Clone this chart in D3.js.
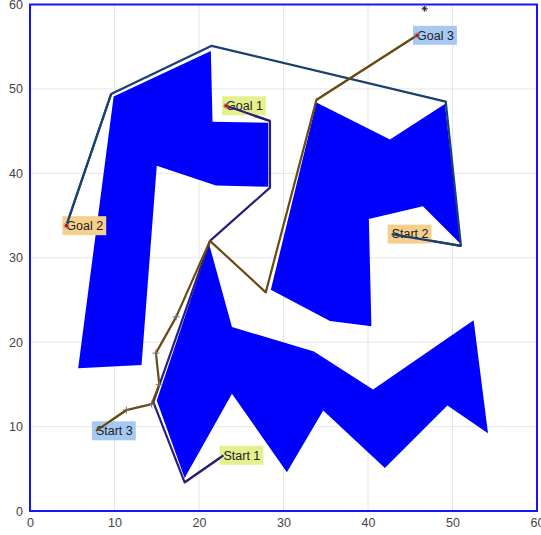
<!DOCTYPE html>
<html>
<head>
<meta charset="utf-8">
<script src="https://cdn.jsdelivr.net/npm/d3@7"></script>
<style>
  html, body { margin: 0; padding: 0; background: #fff; }
  svg { display: block; font-family: "Liberation Sans", Arial, sans-serif; }
</style>
</head>
<body>
<svg id="chart" width="541" height="535"></svg>
<script>
// Obstacles (workspace units)
const obstacleA = [[9.9,49.1],[21.4,54.5],[21.6,46.1],[28.2,46.0],[28.2,38.4],[22.0,38.55],[15.0,40.9],[13.2,17.3],[5.7,16.9]];
const obstacleB = [[33.9,48.4],[42.6,44.0],[49.1,48.2],[51.0,31.6],[46.5,36.1],[40.1,34.6],[40.4,21.9],[35.5,22.5],[28.5,26.2]];
const obstacleC = [[21.2,31.6],[23.9,21.8],[33.6,18.9],[40.6,14.4],[52.5,22.6],[54.2,9.2],[49.4,12.5],[42.0,5.1],[34.7,11.9],[30.4,4.6],[23.9,13.9],[18.3,3.9],[15.0,13.1]];
const obstacles = [obstacleA, obstacleB, obstacleC];

// Planned routes
const route1 = [[22.9,6.6],[18.3,3.4],[14.6,12.9],[21.3,32.0],[28.4,38.3],[28.4,46.2],[23.2,48.0]];
const route2 = [[42.8,32.8],[51.0,31.4],[49.2,48.5],[21.5,55.1],[9.6,49.4],[4.3,33.8]];
const route3 = [[7.8,9.5],[11.4,11.95],[14.4,12.66],[15.3,15.0],[14.9,18.7],[17.3,23.0],[21.3,32.0],[27.9,25.9],[33.9,48.7],[45.8,56.35]];
const routeColors = ["#2b1d7a", "#1b3f6e", "#6b4a14"];

// Waypoint markers on route 3
const waypoints3 = [[11.4,11.95],[14.4,12.66],[15.3,15.0],[14.9,18.7],[17.3,23.0]];
const strayMarker = [46.7,59.5];

// Start / goal labels
const labelText = ["Start 1","Goal 1","Start 2","Goal 2","Start 3","Goal 3"];
const labelPos = [[22.9,6.6],[23.2,48.0],[42.8,32.8],[4.3,33.8],[7.8,9.5],[45.8,56.35]];
const labelFill = ["#e4ef8e","#e4ef8e","#f5cf8b","#f5cf8b","#a6c8f2","#a6c8f2"];
const goalPoints = [[23.2,48.0],[4.3,33.8],[45.8,56.35]];

const tickValues = [0,10,20,30,40,50,60];

const svg = d3.select("#chart");
const margin = {left: 30, right: 4, top: 4.5, bottom: 24};
const W = 541, H = 535;
const x = d3.scaleLinear().domain([0,60]).range([margin.left, W - margin.right]);
const y = d3.scaleLinear().domain([0,60]).range([H - margin.bottom, margin.top]);

// grid
const grid = svg.append("g");
grid.selectAll("line.gx").data(tickValues).enter().append("line")
  .attr("x1", d => x(d)).attr("x2", d => x(d))
  .attr("y1", y(0)).attr("y2", y(60))
  .attr("stroke", "#e6e6e6").attr("stroke-width", 1);
grid.selectAll("line.gy").data(tickValues).enter().append("line")
  .attr("y1", d => y(d)).attr("y2", d => y(d))
  .attr("x1", x(0)).attr("x2", x(60))
  .attr("stroke", "#e6e6e6").attr("stroke-width", 1);

// obstacles
const poly = d3.line().x(d => x(d[0])).y(d => y(d[1]));
svg.append("g").selectAll("path").data(obstacles).enter().append("path")
  .attr("d", d => poly(d) + "Z")
  .attr("fill", "#0000ff").attr("stroke", "none");

// routes
svg.append("g").selectAll("path").data([route1, route2, route3]).enter().append("path")
  .attr("d", d => poly(d))
  .attr("fill", "none")
  .attr("stroke", (d,i) => routeColors[i])
  .attr("stroke-width", 2.2)
  .attr("stroke-linejoin", "round");

// '+' waypoint markers
const plus = svg.append("g").attr("stroke", "#777").attr("stroke-width", 1);
waypoints3.forEach(p => {
  const cx = x(p[0]), cy = y(p[1]);
  plus.append("line").attr("x1", cx-3.5).attr("x2", cx+3.5).attr("y1", cy).attr("y2", cy);
  plus.append("line").attr("x1", cx).attr("x2", cx).attr("y1", cy-3.5).attr("y2", cy+3.5);
});

// '*' markers
function star(g, cx, cy, r, color) {
  [0, 45, 90, 135].forEach(a => {
    const rad = a * Math.PI / 180;
    g.append("line")
      .attr("x1", cx - r*Math.cos(rad)).attr("x2", cx + r*Math.cos(rad))
      .attr("y1", cy - r*Math.sin(rad)).attr("y2", cy + r*Math.sin(rad))
      .attr("stroke", color).attr("stroke-width", 1);
  });
}
const stars = svg.append("g");
star(stars, x(strayMarker[0]), y(strayMarker[1]), 3, "#222");

// labels
const lab = svg.append("g");
labelText.forEach((t, i) => {
  const px = x(labelPos[i][0]), py = y(labelPos[i][1]);
  const g = lab.append("g");
  const txt = g.append("text")
    .attr("x", px).attr("y", py)
    .attr("dy", "0.35em")
    .attr("font-size", 12.5)
    .attr("fill", "#222")
    .text(t);
  const bb = txt.node().getBBox();
  g.insert("rect", "text")
    .attr("x", px - 4).attr("y", py - 9.5)
    .attr("width", bb.width + 7).attr("height", 19)
    .attr("fill", labelFill[i]);
});

// redraw route segments near labels above the boxes
svg.append("g").selectAll("path").data([route1, route2, route3]).enter().append("path")
  .attr("d", d => poly([d[0], d[1]]) )
  .attr("fill", "none")
  .attr("stroke", (d,i) => routeColors[i])
  .attr("stroke-width", 2.2);
svg.append("g").selectAll("path").data([route1, route2, route3]).enter().append("path")
  .attr("d", d => poly([d[d.length-2], d[d.length-1]]) )
  .attr("fill", "none")
  .attr("stroke", (d,i) => routeColors[i])
  .attr("stroke-width", 2.2);

// goal markers
goalPoints.forEach(p => star(stars.raise(), x(p[0]), y(p[1]), 3, "#888"));
svg.append("g").selectAll("circle").data(goalPoints).enter().append("circle")
  .attr("cx", d => x(d[0])).attr("cy", d => y(d[1])).attr("r", 1.6)
  .attr("fill", "#e00000");

// axes
const xAxis = d3.axisBottom(x).tickValues(tickValues).tickSize(0).tickPadding(7);
const yAxis = d3.axisLeft(y).tickValues(tickValues).tickSize(0).tickPadding(7);
const gx = svg.append("g").attr("transform", `translate(0,${y(0)})`).call(xAxis);
const gy = svg.append("g").attr("transform", `translate(${x(0)},0)`).call(yAxis);
[gx, gy].forEach(g => {
  g.select(".domain").remove();
  g.selectAll("text").attr("fill", "#444").attr("font-size", 12.5)
    .attr("font-family", "Liberation Sans, Arial, sans-serif");
});

// frame
svg.append("rect")
  .attr("x", x(0)).attr("y", y(60))
  .attr("width", x(60) - x(0)).attr("height", y(0) - y(60))
  .attr("fill", "none").attr("stroke", "#1515ff").attr("stroke-width", 2);
</script>
</body>
</html>
